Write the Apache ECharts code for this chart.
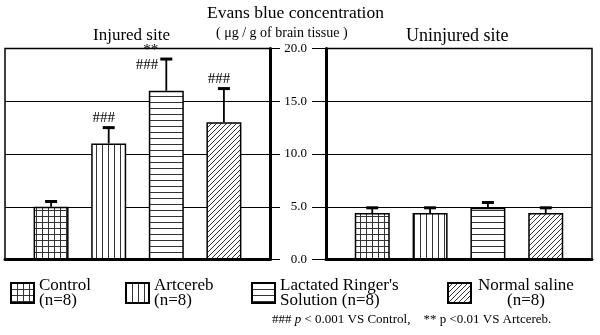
<!DOCTYPE html>
<html>
<head>
<meta charset="utf-8">
<script src="https://cdn.jsdelivr.net/npm/echarts@6/dist/echarts.min.js"></script>
<style>html,body{margin:0;padding:0;background:#fff}#chart{width:600px;height:335px}</style>
</head>
<body>
<div id="chart"></div>
<script>
// groups and values
var groups = ['Control', 'Artcereb', "Lactated Ringer's", 'Normal saline'];
var groupSub = ['(n=8)', '(n=8)', 'Solution (n=8)', '(n=8)'];
var injuredMean = [5.0, 11.0, 16.0, 13.0];
var injuredErr = [0.5, 1.5, 3.0, 3.2];
var injuredMarks = ['', '###', '**\n###', '###'];
var uninjuredMean = [4.4, 4.4, 4.9, 4.4];
var uninjuredErr = [0.5, 0.5, 0.5, 0.5];
var yTicks = [0, 5, 10, 15, 20];

var FONT = '"Liberation Serif", "Times New Roman", serif';

//fill patterns: grid, vertical, horizontal, diagonal
function makePattern(kind){
	var s = kind == 'diag' ? 5 : 6;
	var c = document.createElement('canvas');
	c.width = s; c.height = s;
	var ctx = c.getContext('2d');
	ctx.fillStyle = '#fff';
	ctx.fillRect(0, 0, s, s);
	ctx.strokeStyle = '#333';
	ctx.lineWidth = 1;
	ctx.beginPath();
	if (kind == 'grid' || kind == 'vert') { ctx.moveTo(0.5, 0); ctx.lineTo(0.5, s); }
	if (kind == 'grid' || kind == 'horz') { ctx.moveTo(0, 0.5); ctx.lineTo(s, 0.5); }
	if (kind == 'diag') {
		ctx.moveTo(0, s); ctx.lineTo(s, 0);
		ctx.moveTo(-1, 1); ctx.lineTo(1, -1);
		ctx.moveTo(s - 1, s + 1); ctx.lineTo(s + 1, s - 1);
	}
	ctx.stroke();
	return {image: c, repeat: 'repeat'};
}
var patterns = ['grid', 'vert', 'horz', 'diag'].map(makePattern);

function errSeries(g, means, errs, marks){
	return {
		type: 'custom',
		xAxisIndex: g,
		yAxisIndex: g,
		z: 5,
		silent: true,
		data: means.map(function(m, i){ return [i + 1, m, errs[i], i]; }),
		renderItem: function(params, api){
			var x = api.value(0), m = api.value(1), e = api.value(2), idx = api.value(3);
			var p0 = api.coord([x, m]);
			var p1 = api.coord([x, m + e]);
			var children = [
				{type: 'line', shape: {x1: p0[0], y1: p0[1], x2: p1[0], y2: p1[1]}, style: {stroke: '#000', lineWidth: 1.8}},
				{type: 'line', shape: {x1: p1[0] - 6, y1: p1[1], x2: p1[0] + 6, y2: p1[1]}, style: {stroke: '#000', lineWidth: 3}}
			];
			var mark = marks ? marks[idx] : '';
			if (mark) {
				var n = mark.split('\n').length;
				//没有空间时放到误差线左边
				var roomy = p1[1] - n * 15 - 4 > params.coordSys.y;
				children.push({
					type: 'text',
					style: {
						text: mark,
						x: roomy ? p1[0] - 5 : p1[0] - 8,
						y: roomy ? p1[1] - 2 : p1[1] + 14,
						align: roomy ? 'center' : 'right',
						verticalAlign: 'bottom',
						font: '15px ' + FONT,
						lineHeight: 15,
						fill: '#000'
					}
				});
			}
			return {type: 'group', children: children};
		}
	};
}

var series = [];
[injuredMean, uninjuredMean].forEach(function(means, g){
	for (var i = 0; i < groups.length; i++) {
		series.push({
			name: groups[i],
			type: 'bar',
			xAxisIndex: g,
			yAxisIndex: g,
			stack: 's' + g,
			barWidth: 35,
			silent: true,
			itemStyle: {color: patterns[i], borderColor: '#000', borderWidth: 1.5},
			data: [[i + 1, means[i]]]
		});
	}
});
series.push(errSeries(0, injuredMean, injuredErr, injuredMarks));
series.push(errSeries(1, uninjuredMean, uninjuredErr, null));

var legendLeft = [10, 125, 251, 447];
var legends = groups.map(function(name, i){
	return {
		data: [name],
		left: legendLeft[i],
		top: 277,
		padding: 0,
		icon: 'rect',
		itemWidth: 23,
		itemHeight: 20,
		selectedMode: false,
		formatter: function(nm){
			if (i == 3) return '{a|' + nm + '}\n{b|' + groupSub[i] + '}';
			return nm + '\n' + groupSub[i];
		},
		textStyle: {
			color: '#000', fontFamily: FONT, fontSize: 17, lineHeight: 15,
			rich: {
				a: {fontFamily: FONT, fontSize: 17, lineHeight: 15, color: '#000', width: 100, align: 'center'},
				b: {fontFamily: FONT, fontSize: 17, lineHeight: 15, color: '#000', width: 100, align: 'center'}
			}
		}
	};
});

function titleItem(text, left, top, size){
	return {text: text, left: left, top: top, padding: 0,
		textStyle: {fontFamily: FONT, fontSize: size, fontWeight: 'normal', color: '#000',
			rich: {i: {fontFamily: FONT, fontSize: size, fontStyle: 'italic', color: '#000'}}}};
}

var option = {
	animation: false,
	backgroundColor: '#fff',
	title: [
		titleItem('Evans blue concentration', 207, 4, 17.5),
		titleItem('Injured site', 93, 27, 17),
		titleItem('( \u03bcg / g of brain tissue )', 216, 26, 14),
		titleItem('Uninjured site', 406, 27, 18),
		titleItem('### {i|p} < 0.001 VS Control,    ** p <0.01 VS Artcereb.', 272, 313, 13)
	],
	legend: legends,
	grid: [
		{left: 5, top: 48.5, width: 265, height: 211, show: true, borderColor: '#000', borderWidth: 1.5},
		{left: 326, top: 48.5, width: 266, height: 211, show: true, borderColor: '#000', borderWidth: 1.5}
	],
	xAxis: [0, 1].map(function(g){
		return {
			gridIndex: g, type: 'value', min: 0.2, max: 4.8,
			axisLine: {show: true, onZero: false, lineStyle: {color: '#000', width: 3}},
			axisTick: {show: false}, axisLabel: {show: false}, splitLine: {show: false}
		};
	}),
	yAxis: [
		{
			gridIndex: 0, type: 'value', position: 'right', min: yTicks[0], max: yTicks[yTicks.length - 1], interval: 5,
			axisLine: {show: true, lineStyle: {color: '#000', width: 3}},
			axisTick: {show: true, length: 10, lineStyle: {color: '#000', width: 1}},
			axisLabel: {show: false},
			splitLine: {show: true, lineStyle: {color: '#000', width: 1}}
		},
		{
			gridIndex: 1, type: 'value', position: 'left', min: yTicks[0], max: yTicks[yTicks.length - 1], interval: 5,
			axisLine: {show: true, lineStyle: {color: '#000', width: 3}},
			axisTick: {show: true, length: 14, lineStyle: {color: '#000', width: 1}},
			axisLabel: {show: true, margin: 19, color: '#000', fontFamily: FONT, fontSize: 13,
				formatter: function(v){ return v.toFixed(1); }},
			splitLine: {show: true, lineStyle: {color: '#000', width: 1}}
		}
	],
	series: series
};

var chart = echarts.init(document.getElementById('chart'));
chart.setOption(option);
</script>
</body>
</html>
